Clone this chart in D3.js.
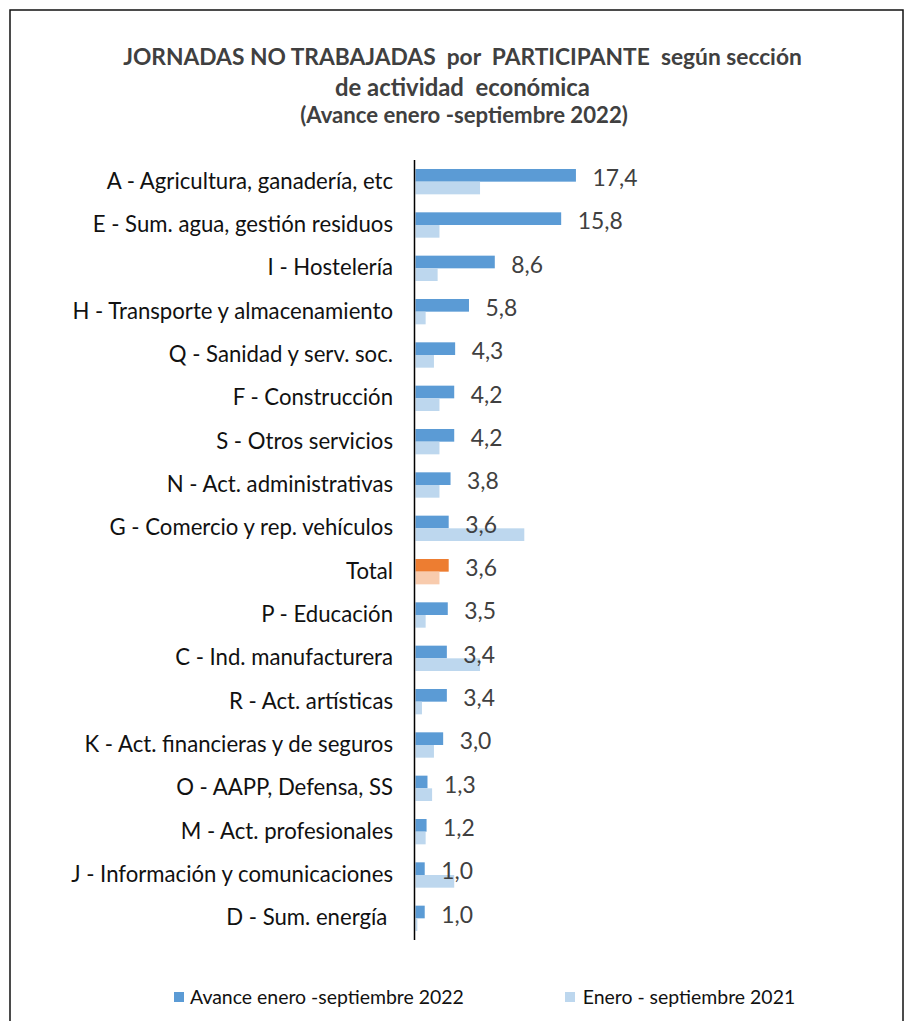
<!DOCTYPE html>
<html>
<head>
<meta charset="utf-8">
<script src="https://cdn.jsdelivr.net/npm/d3@7"></script>
<style>
  html, body { margin: 0; padding: 0; background: #fff; }
  svg { display: block; }
  text { white-space: pre; }
</style>
</head>
<body>
<svg id="chart" width="906" height="1021"></svg>
<script>
const categories = [
  "A - Agricultura, ganadería, etc",
  "E - Sum. agua, gestión residuos",
  "I - Hostelería",
  "H - Transporte y almacenamiento",
  "Q - Sanidad y serv. soc.",
  "F - Construcción",
  "S - Otros servicios",
  "N - Act. administrativas",
  "G - Comercio y rep. vehículos",
  "Total",
  "P - Educación",
  "C - Ind. manufacturera",
  "R - Act. artísticas",
  "K - Act. financieras y de seguros",
  "O - AAPP, Defensa, SS",
  "M - Act. profesionales",
  "J - Información y comunicaciones",
  "D - Sum. energía "
];
const values2022 = [17.4, 15.8, 8.6, 5.8, 4.3, 4.2, 4.2, 3.8, 3.6, 3.6, 3.5, 3.4, 3.4, 3.0, 1.3, 1.2, 1.0, 1.0];
const values2021 = [7.0, 2.6, 2.4, 1.1, 2.0, 2.6, 2.6, 2.6, 11.8, 2.6, 1.1, 7.0, 0.7, 2.0, 1.8, 1.1, 4.2, 0.2];
const seriesNames = ["Avance enero -septiembre 2022", "Enero - septiembre 2021"];
const titleLines = [
  "JORNADAS NO TRABAJADAS  por  PARTICIPANTE  según sección",
  "de actividad  económica",
  "(Avance enero -septiembre 2022)"
];

const colors = {
  s2022: "#5B9BD5", s2021: "#BDD7EE",
  total2022: "#ED7D31", total2021: "#F8CBAD"
};

const svg = d3.select("#chart");
const FONT = "Lato, 'Open Sans', sans-serif";

// fit font size so that a reference string reaches a target width
function fitSize(str, target, weight) {
  const t = svg.append("text").attr("font-family", FONT).attr("font-size", 100)
    .attr("font-weight", weight || "normal").text(str);
  const w = t.node().getComputedTextLength();
  t.remove();
  return 100 * target / w;
}

// frame
svg.append("rect").attr("x", 10).attr("y", 10).attr("width", 893).attr("height", 1030)
  .attr("fill", "none").attr("stroke", "#111").attr("stroke-width", 1.5);

// title
const titleSpecs = [
  { w: 679, cx: 462.5, y: 65 },
  { w: 255, cx: 462.5, y: 96 },
  { w: 328, cx: 464, y: 123 }
];
titleLines.forEach((line, i) => {
  const s = titleSpecs[i];
  svg.append("text")
    .attr("x", s.cx).attr("y", s.y)
    .attr("text-anchor", "middle")
    .attr("font-family", FONT).attr("font-weight", "bold")
    .attr("font-size", fitSize(line, s.w, "bold"))
    .attr("fill", "#404040")
    .text(line);
});

// scales
const y0 = d3.scaleBand().domain(categories).range([160, 940]).padding(0);
const y1 = d3.scaleBand().domain(["v2022", "v2021"]).range([0, y0.bandwidth()])
  .paddingInner(0).paddingOuter(0.71);
const x = d3.scaleLinear().domain([0, 20]).range([415.5, 599.9]);

const rows = categories.map((c, i) => ({ cat: c, v2022: values2022[i], v2021: values2021[i] }));

// bars
const g = svg.append("g");
rows.forEach(r => {
  const isTotal = r.cat === "Total";
  g.append("rect")
    .attr("x", x(0)).attr("y", y0(r.cat) + y1("v2022"))
    .attr("width", x(r.v2022) - x(0)).attr("height", y1.bandwidth())
    .attr("fill", isTotal ? colors.total2022 : colors.s2022);
  g.append("rect")
    .attr("x", x(0)).attr("y", y0(r.cat) + y1("v2021"))
    .attr("width", x(r.v2021) - x(0)).attr("height", y1.bandwidth())
    .attr("fill", isTotal ? colors.total2021 : colors.s2021);
});

// value labels (2022 series)
const locale = d3.formatLocale({ decimal: ",", thousands: ".", grouping: [3], currency: ["", "€"] });
const fmt = locale.format(".1f");
const valSize = fitSize("17,4", 45);
rows.forEach(r => {
  svg.append("text")
    .attr("x", x(r.v2022) + 16.5)
    .attr("y", y0(r.cat) + y0.bandwidth() / 2 + 4.3)
    .attr("font-family", FONT).attr("font-size", valSize)
    .attr("fill", "#404040")
    .text(fmt(r.v2022));
});

// category axis
const catSize = fitSize("J - Información y comunicaciones", 322);
const axis = d3.axisLeft(y0).tickSize(0).tickPadding(0);
const axG = svg.append("g").attr("transform", "translate(414.5,0)").call(axis);
axG.select(".domain").attr("stroke", "#000").attr("stroke-width", 1.5)
  .attr("d", "M0,160V940");
axG.selectAll(".tick text")
  .attr("x", -21.5)
  .attr("dy", null)
  .attr("y", 7)
  .attr("font-family", FONT).attr("font-size", catSize)
  .attr("fill", "#111");

// legend
const legSize = fitSize(seriesNames[0], 274);
const legend = [
  { name: seriesNames[0], color: colors.s2022, sx: 174, tx: 190 },
  { name: seriesNames[1], color: colors.s2021, sx: 565, tx: 582.7 }
];
legend.forEach(l => {
  svg.append("rect").attr("x", l.sx).attr("y", 992).attr("width", 10).attr("height", 10)
    .attr("fill", l.color);
  svg.append("text").attr("x", l.tx).attr("y", 1004)
    .attr("font-family", FONT).attr("font-size", legSize)
    .attr("fill", "#111").text(l.name);
});
</script>
</body>
</html>
